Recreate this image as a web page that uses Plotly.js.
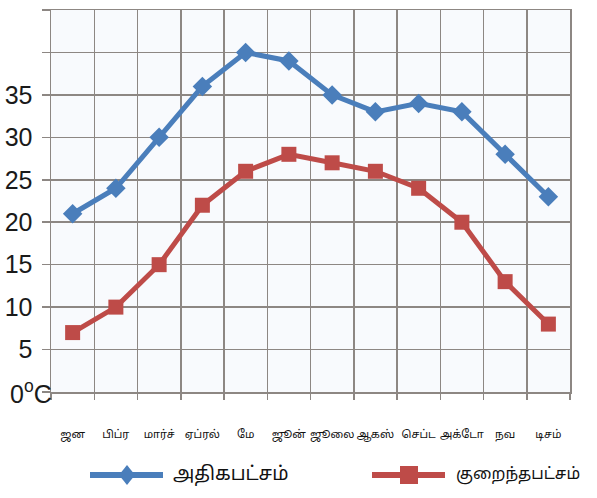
<!DOCTYPE html>
<html>
<head>
<meta charset="utf-8">
<script src="https://cdn.plot.ly/plotly-3.0.1.min.js"></script>
<style>html,body{margin:0;padding:0;background:#fff;}#chart{width:597px;height:498px;}</style>
</head>
<body>
<div id="chart"></div>
<script>
const months = ["ஜன", "பிப்ர", "மார்ச்", "ஏப்ரல்", "மே", "ஜூன்", "ஜூலை", "ஆகஸ்", "செப்ட", "அக்டோ", "நவ", "டிசம்"];
const maxTemp = [21, 24, 30, 36, 40, 39, 35, 33, 34, 33, 28, 23];
const minTemp = [7, 10, 15, 22, 26, 28, 27, 26, 24, 20, 13, 8];
const yTickVals = [5, 10, 15, 20, 25, 30, 35];
const yTickText = ["5", "10", "15", "20", "25", "30", "35"];
const zeroLabel = "0<sup>o</sup>C";
const seriesNames = ["அதிகபட்சம்", "குறைந்தபட்சம்"];

const blue = "#4a7ebb", red = "#be4b48", grid = "#8d8783";
const tamilFont = "'Noto Sans Tamil', 'Lohit Tamil', 'Noto Sans', sans-serif";
const numFont = "'Liberation Sans', Arial, sans-serif";

// plot area in pixels: x 51..570, y 10..392
const L = 51, R = 570, T = 10, B = 392;
const px = x => (x - L) / (R - L);
const py = y => (B - y) / (B - T);

const traces = [
  {x: months, y: maxTemp, name: seriesNames[0], type: "scatter", mode: "lines+markers",
   line: {color: blue, width: 5}, marker: {symbol: "diamond", size: 15, color: blue}},
  {x: months, y: minTemp, name: seriesNames[1], type: "scatter", mode: "lines+markers",
   line: {color: red, width: 5}, marker: {symbol: "square", size: 15, color: red}}
];

const layout = {
  width: 597, height: 498,
  margin: {l: L, r: 597 - R, t: T, b: 498 - B},
  paper_bgcolor: "#ffffff",
  plot_bgcolor: "#f8fafd",
  showlegend: false,
  xaxis: {
    type: "category", tickson: "boundaries", range: [-0.5, 11.5],
    showgrid: true, gridcolor: grid, gridwidth: 1.5,
    showline: true, mirror: true, linecolor: grid, linewidth: 1.5,
    ticks: "outside", ticklen: 6, tickcolor: grid, tickwidth: 1.5,
    tickangle: 0, ticklabelstandoff: 31,
    tickfont: {family: tamilFont, size: 11, color: "#111"},
    zeroline: false, fixedrange: true
  },
  yaxis: {
    range: [0, 45], tickmode: "array", tickvals: yTickVals, ticktext: yTickText,
    showgrid: true, gridcolor: grid, gridwidth: 1.5,
    showline: true, mirror: true, linecolor: grid, linewidth: 1.5,
    ticks: "outside", ticklen: 8, tickcolor: grid, tickwidth: 1.5,
    ticklabelstandoff: 4,
    minor: {tick0: 0, dtick: 5, showgrid: true, gridcolor: grid, gridwidth: 1.5,
            ticks: "outside", ticklen: 8, tickcolor: grid, tickwidth: 1.5},
    tickfont: {family: numFont, size: 25, color: "#1a1a1a"},
    zeroline: false, fixedrange: true
  },
  shapes: [
    {type: "line", xref: "paper", yref: "paper", x0: px(90), x1: px(163), y0: py(475), y1: py(475),
     line: {color: blue, width: 6}},
    {type: "path", xref: "paper", yref: "paper", xsizemode: "pixel", ysizemode: "pixel",
     xanchor: px(127), yanchor: py(475), path: "M-8,0 L0,10 L8,0 L0,-10 Z",
     fillcolor: blue, line: {width: 0}},
    {type: "line", xref: "paper", yref: "paper", x0: px(372), x1: px(445), y0: py(475), y1: py(475),
     line: {color: red, width: 6}},
    {type: "path", xref: "paper", yref: "paper", xsizemode: "pixel", ysizemode: "pixel",
     xanchor: px(409), yanchor: py(475), path: "M-9,-9 L9,-9 L9,9 L-9,9 Z",
     fillcolor: red, line: {width: 0}}
  ],
  annotations: [
    {text: zeroLabel, xref: "paper", yref: "paper", x: px(8), y: py(392),
     xanchor: "left", yanchor: "middle", showarrow: false,
     font: {family: numFont, size: 25, color: "#1a1a1a"}},
    {text: seriesNames[0], xref: "paper", yref: "paper", x: px(171), y: py(475),
     xanchor: "left", yanchor: "middle", showarrow: false,
     font: {family: tamilFont, size: 19, color: "#111"}},
    {text: seriesNames[1], xref: "paper", yref: "paper", x: px(454), y: py(475),
     xanchor: "left", yanchor: "middle", showarrow: false,
     font: {family: tamilFont, size: 16, color: "#111"}}
  ]
};

Plotly.newPlot("chart", traces, layout, {displayModeBar: false, staticPlot: true});
</script>
</body>
</html>
